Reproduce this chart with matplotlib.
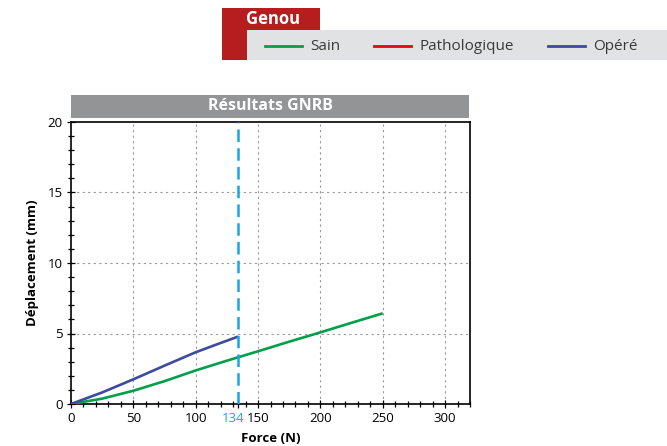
import matplotlib
matplotlib.use("Agg")
import matplotlib.pyplot as plt
from matplotlib.patches import Rectangle
from matplotlib.lines import Line2D
from matplotlib.ticker import MultipleLocator
from matplotlib.transforms import ScaledTranslation

plt.rcParams['font.family'] = ['Open Sans', 'DejaVu Sans']

# Data
sain_x = [0, 25, 50, 75, 100, 125, 150, 175, 200, 225, 250]
sain_y = [0, 0.38, 0.94, 1.62, 2.38, 3.07, 3.74, 4.42, 5.08, 5.76, 6.43]
opere_x = [0, 25, 50, 75, 100, 117, 134]
opere_y = [0, 0.82, 1.75, 2.72, 3.67, 4.23, 4.78]
marker_x = 134
x_ticks = [0, 50, 100, 150, 200, 250, 300]
y_ticks = [0, 5, 10, 15, 20]
legend_labels = ['Sain', 'Pathologique', 'Opéré']
legend_colors = ['#00A04A', '#E30613', '#3D4B9C']
title = 'Résultats GNRB'
group_title = 'Genou'

W, H = 667, 446
fig = plt.figure(figsize=(W / 100, H / 100), dpi=100)

def fx(px):
    return px / W

def fy(py):
    return 1 - py / H

ax = fig.add_axes([fx(71), fy(404), fx(470) - fx(71), fy(122) - fy(404)])

ax.plot(sain_x, sain_y, color=legend_colors[0], lw=1.9, solid_capstyle='butt', zorder=3)
ax.plot(opere_x, opere_y, color=legend_colors[2], lw=1.9, solid_capstyle='butt', zorder=3)
ax.axvline(marker_x, color='#1AA3E8', lw=1.8, linestyle=(0, (5, 2.5)), zorder=4)

ax.set_xlim(0, 320)
ax.set_ylim(0, 20)
ticks = sorted(x_ticks + [marker_x])
ax.set_xticks(ticks)
ax.set_xticklabels([str(t) for t in ticks])
ax.set_yticks(y_ticks)
ax.xaxis.set_minor_locator(MultipleLocator(10))
ax.yaxis.set_minor_locator(MultipleLocator(1))
ax.tick_params(which='major', direction='inout', length=6, width=0.9, labelsize=9.5, pad=3, colors='black')
ax.tick_params(which='minor', direction='inout', length=5, width=0.9)
for lbl, t in zip(ax.get_xticklabels(), ticks):
    if t == marker_x:
        lbl.set_color('#1AA3E8')
        lbl.set_transform(lbl.get_transform() + ScaledTranslation(-5 / 100, 0, fig.dpi_scale_trans))

for gx in x_ticks[1:]:
    ax.axvline(gx, color='#9a9a9a', lw=0.8, linestyle=(0, (2, 3)), zorder=1)
for gy in y_ticks[1:-1]:
    ax.axhline(gy, color='#9a9a9a', lw=0.8, linestyle=(0, (2, 3)), zorder=1)

for s in ax.spines.values():
    s.set_linewidth(1.2)
    s.set_color('black')

ax.set_xlabel('Force (N)', fontsize=9.5, fontweight='bold', labelpad=5)
ax.set_ylabel('Déplacement (mm)', fontsize=9.5, fontweight='bold', labelpad=6)

# Title bar
fig.patches.append(Rectangle((fx(71), fy(118)), fx(469) - fx(71), fy(95) - fy(118),
                             transform=fig.transFigure, facecolor='#939496', edgecolor='none'))
fig.text(fx(270), fy(106.5), title, color='white', fontsize=11.5, fontweight='bold',
         ha='center', va='center')

# Legend block
fig.patches.append(Rectangle((fx(222), fy(60)), fx(320) - fx(222), fy(8) - fy(60),
                             transform=fig.transFigure, facecolor='#B51D1E', edgecolor='none'))
fig.patches.append(Rectangle((fx(247), fy(60)), fx(667) - fx(247), fy(30) - fy(60),
                             transform=fig.transFigure, facecolor='#E1E2E4', edgecolor='none'))
fig.text(fx(246), fy(19), group_title, color='white', fontsize=12, fontweight='bold',
         ha='left', va='center')
leg_line_x = [265, 374, 548]
for lx, lab, col in zip(leg_line_x, legend_labels, legend_colors):
    fig.lines.append(Line2D([fx(lx), fx(lx + 37)], [fy(46), fy(46)], transform=fig.transFigure,
                            color=col, lw=2))
    fig.text(fx(lx + 45), fy(46.5), lab, color='#3a3a3a', fontsize=11, ha='left', va='center')

fig.savefig('out.png', dpi=100)
